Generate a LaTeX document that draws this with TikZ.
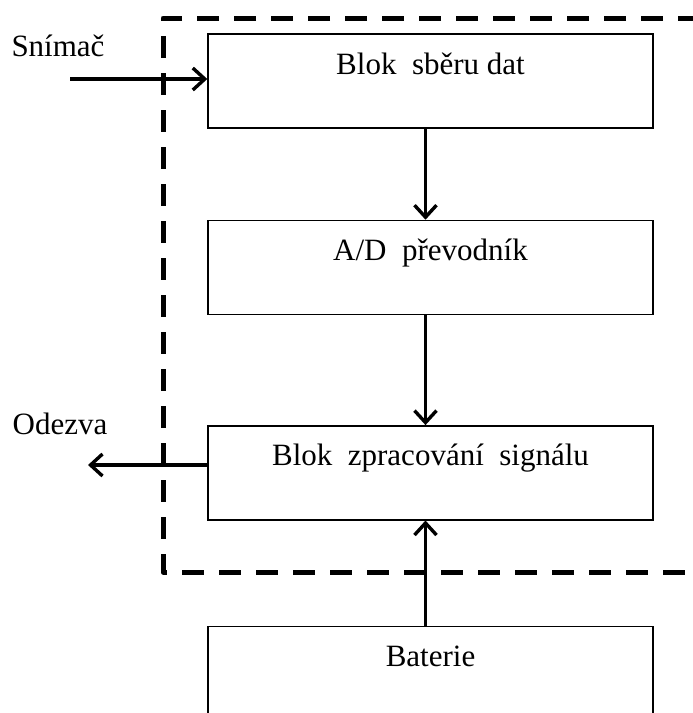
\documentclass[tikz,border=0pt]{standalone}
\usepackage{fontspec}
\setmainfont{Liberation Serif}
\usepackage{tikz}
\usetikzlibrary{positioning,arrows.meta}

\tikzset{
  blok/.style={draw, line width=0.7pt, minimum width=222.5pt, inner sep=0pt,
    text height=20pt, text depth=27pt, text centered},
  sipka/.style={-{Straight Barb[length=6pt,width=11pt]}, line width=1.7pt},
}

\begin{document}
\begin{tikzpicture}[x=0.5pt, y=-0.5pt, font=\fontsize{15.5}{18}\selectfont]
\useasboundingbox (0,0) rectangle (692,713);
% nodes %

\node[blok] (sber) at (430.5,81) {Blok\ \ sběru dat};
\node[blok, below = 45.5pt of sber] (adc) {A/D\ \ převodník};
\node[blok, below = 55pt of adc] (zprac) {Blok\ \ zpracování\ \ signálu};
\node[blok, below = 52.5pt of zprac] (bat) {Baterie};
\node[text centered] (snimac) at (58,46) {Snímač};
\node[text centered] (odezva) at (60,424) {Odezva};
\coordinate (snimacin) at (70,79);
\coordinate (odezvaout) at (88,465);

% edges %
\draw[line width=2.5pt, dash pattern=on 11pt off 7.5pt, line join=round]
  (700,18) -- (163,18) -- (163,572) -- (700,572);
\draw[sipka] (snimacin) -- (sber.west |- snimacin);
\draw[sipka] ([xshift=-2.5pt]sber.south) -- ([xshift=-2.5pt]adc.north);
\draw[sipka] ([xshift=-2.5pt]adc.south) -- ([xshift=-2.5pt]zprac.north);
\draw[sipka] (zprac.west |- odezvaout) -- (odezvaout);
\draw[sipka] ([xshift=-2.5pt]bat.north) -- ([xshift=-2.5pt]zprac.south);

\end{tikzpicture}
\end{document}
